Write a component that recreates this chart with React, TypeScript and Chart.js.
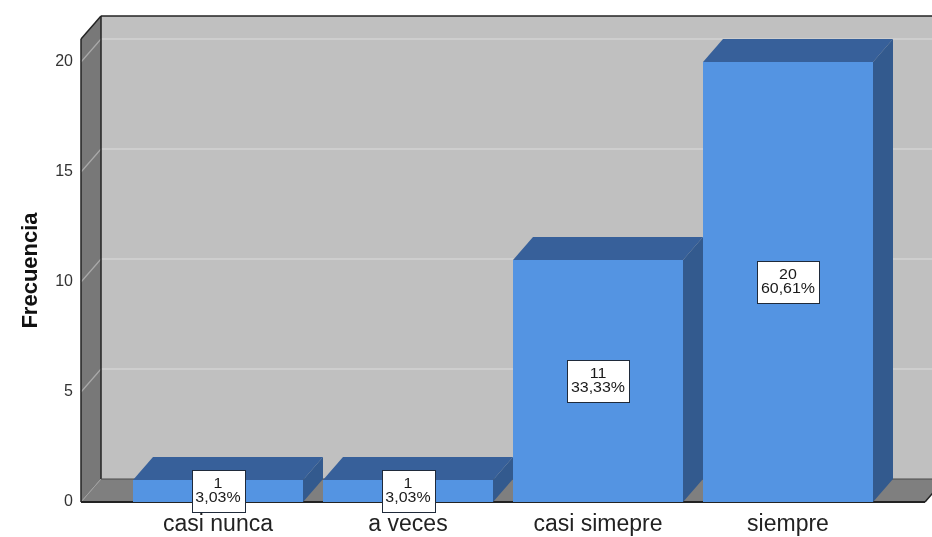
import React, { useEffect, useRef } from "react";
import { Chart, registerables } from "chart.js";

Chart.register(...registerables);

const categories = ["casi nunca", "a veces", "casi simepre", "siempre"];
const frequencies = [1, 1, 11, 20];
const percentLabels = ["3,03%", "3,03%", "33,33%", "60,61%"];
const yTickValues = [0, 5, 10, 15, 20];
const yMax = 21.045;

const DX = 20;
const DY = 23;
const WALL_GAP = 42;

const COLORS = {
  backWall: "#c0c0c0",
  grid: "#d3d3d3",
  leftWall: "#787878",
  leftGrid: "#a9a9a9",
  floor: "#7f7f7f",
  edge: "#232323",
  barFront: "#5494e2",
  barTop: "#37609a",
  barSide: "#335a8e",
  boxBorder: "#1f2a3a",
  text: "#1a1a1a",
};

function poly(ctx: CanvasRenderingContext2D, pts: number[][], fill: string) {
  ctx.beginPath();
  ctx.moveTo(pts[0][0], pts[0][1]);
  for (let i = 1; i < pts.length; i++) ctx.lineTo(pts[i][0], pts[i][1]);
  ctx.closePath();
  ctx.fillStyle = fill;
  ctx.fill();
}

function line(ctx: CanvasRenderingContext2D, x1: number, y1: number, x2: number, y2: number, color: string, w: number) {
  ctx.beginPath();
  ctx.moveTo(x1, y1);
  ctx.lineTo(x2, y2);
  ctx.strokeStyle = color;
  ctx.lineWidth = w;
  ctx.stroke();
}

const threeD = {
  id: "threeD",
  beforeDatasetsDraw(chart: any) {
    const { ctx, chartArea, scales } = chart;
    const y = scales.y;
    const X0 = chartArea.left - WALL_GAP;
    const X1 = chartArea.right + WALL_GAP;
    const top = chartArea.top;
    const bottom = chartArea.bottom;
    ctx.save();
    // back wall
    poly(ctx, [[X0 + DX, top - DY], [X1 + DX, top - DY], [X1 + DX, bottom - DY], [X0 + DX, bottom - DY]], COLORS.backWall);
    // left wall
    poly(ctx, [[X0, top], [X0 + DX, top - DY], [X0 + DX, bottom - DY], [X0, bottom]], COLORS.leftWall);
    // grid lines on back and left walls
    y.ticks.forEach((t: any) => {
      if (t.value <= 0) return;
      const py = y.getPixelForValue(t.value);
      line(ctx, X0 + DX, py - DY, X1 + DX, py - DY, COLORS.grid, 1.5);
      line(ctx, X0, py, X0 + DX, py - DY, COLORS.leftGrid, 1.2);
    });
    // floor
    poly(ctx, [[X0, bottom], [X0 + DX, bottom - DY], [X1 + DX, bottom - DY], [X1, bottom]], COLORS.floor);
    line(ctx, X0, bottom, X0 + DX, bottom - DY, "#a0a0a0", 1);
    // edges
    line(ctx, X0 + DX, top - DY, X1 + DX, top - DY, COLORS.edge, 1.5);
    line(ctx, X0 + DX, top - DY, X0 + DX, bottom - DY, COLORS.edge, 1.5);
    line(ctx, X0, top, X0 + DX, top - DY, COLORS.edge, 1.5);
    line(ctx, X0, top, X0, bottom, COLORS.edge, 1.5);
    line(ctx, X0 + DX, bottom - DY, X1 + DX, bottom - DY, "#4a4a4a", 1);
    line(ctx, X0, bottom, X1, bottom, COLORS.edge, 2);
    line(ctx, X1, bottom, X1 + DX, bottom - DY, COLORS.edge, 1.5);
    ctx.restore();
  },
  afterDatasetsDraw(chart: any) {
    const { ctx } = chart;
    const meta = chart.getDatasetMeta(0);
    ctx.save();
    meta.data.forEach((el: any) => {
      const p = el.getProps(["x", "y", "base", "width"], true);
      const left = p.x - p.width / 2;
      const right = p.x + p.width / 2;
      const top = p.y;
      const base = p.base;
      poly(ctx, [[left, top], [left + DX, top - DY], [right + DX, top - DY], [right, top]], COLORS.barTop);
      poly(ctx, [[right, top], [right + DX, top - DY], [right + DX, base - DY], [right, base]], COLORS.barSide);
    });
    // value labels
    const sx = 1.14;
    ctx.font = "14px 'Liberation Sans', Arial, sans-serif";
    ctx.textAlign = "center";
    ctx.textBaseline = "middle";
    meta.data.forEach((el: any, i: number) => {
      const p = el.getProps(["x", "y", "base", "width"], true);
      const cx = p.x;
      const cy = (p.y + p.base) / 2;
      const lines = [String(frequencies[i]), percentLabels[i]];
      const tw = Math.max(...lines.map((l) => ctx.measureText(l).width)) * sx;
      const bw = Math.round(tw + 8);
      const bh = 42;
      const bx = Math.round(cx - bw / 2) + 0.5;
      const by = Math.round(cy - bh / 2) + 0.5;
      ctx.fillStyle = "#ffffff";
      ctx.fillRect(bx, by, bw, bh);
      ctx.strokeStyle = COLORS.boxBorder;
      ctx.lineWidth = 1;
      ctx.strokeRect(bx, by, bw, bh);
      ctx.fillStyle = COLORS.text;
      lines.forEach((l, k) => {
        ctx.save();
        ctx.translate(cx, cy - 7 + k * 14);
        ctx.scale(sx, 1);
        ctx.fillText(l, 0, 0);
        ctx.restore();
      });
    });
    ctx.restore();
  },
};

export default function App() {
  const ref = useRef<HTMLCanvasElement | null>(null);
  useEffect(() => {
    if (!ref.current) return;
    const chart = new Chart(ref.current, {
      type: "bar",
      data: {
        labels: categories,
        datasets: [
          {
            label: "Frecuencia",
            data: frequencies,
            backgroundColor: COLORS.barFront,
            borderWidth: 0,
            barPercentage: 170 / 190,
            categoryPercentage: 1,
          },
        ],
      },
      options: {
        animation: false,
        responsive: true,
        maintainAspectRatio: false,
        layout: { padding: { top: 39, right: 49, bottom: 0, left: 0 } },
        plugins: {
          legend: { display: false },
          tooltip: { enabled: false },
        },
        scales: {
          x: {
            grid: { display: false, drawTicks: false },
            border: { display: false },
            ticks: {
              color: "#222222",
              font: { family: "'Liberation Sans', Arial, sans-serif", size: 23 },
              padding: 9,
              maxRotation: 0,
              autoSkip: false,
            },
            afterFit: (scale: any) => {
              scale.height = 35;
            },
          },
          y: {
            min: 0,
            max: yMax,
            grid: { display: false, drawTicks: true, tickLength: 42 },
            border: { display: false },
            afterBuildTicks: (scale: any) => {
              scale.ticks = yTickValues.map((v) => ({ value: v }));
            },
            ticks: {
              color: "#333333",
              font: { family: "'Liberation Sans', Arial, sans-serif", size: 16 },
              padding: 8,
            },
            title: {
              display: true,
              text: "Frecuencia",
              color: "#111111",
              font: { family: "'Liberation Sans', Arial, sans-serif", size: 22, weight: "bold" },
              padding: { top: 18, bottom: 0 },
            },
            afterFit: (scale: any) => {
              scale.width = 123;
            },
          },
        },
      },
      plugins: [threeD],
    });
    return () => chart.destroy();
  }, []);
  return (
    <div style={{ position: "fixed", left: 0, top: 0, width: 932, height: 537, background: "#ffffff" }}>
      <canvas ref={ref} style={{ display: "block" }} />
    </div>
  );
}
